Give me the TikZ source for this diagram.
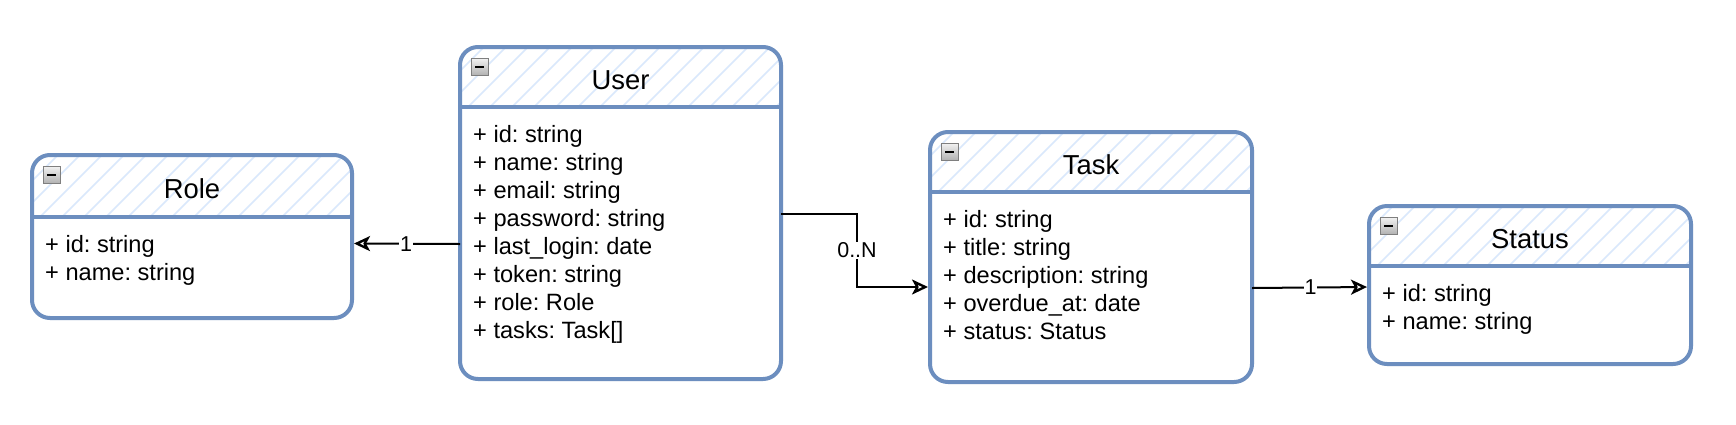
\documentclass[tikz,border=0pt]{standalone}
\usepackage{fontspec}
\setmainfont{Liberation Sans}
\usetikzlibrary{arrows.meta}
\frenchspacing
\definecolor{umlblue}{HTML}{6C8EBF}
\definecolor{hatchblue}{HTML}{DAE8FC}
\definecolor{iconborder}{HTML}{7F7F7F}
\tikzset{
 classbox/.style={draw=umlblue, line width=4pt, rounded corners=18pt, inner sep=0pt, outer sep=0pt, anchor=north west},
 sepline/.style={draw=umlblue, line width=4pt},
 hatch/.style={draw=hatchblue, line width=1.6pt},
 titletext/.style={font=\fontsize{27.4}{32}\selectfont, inner sep=0pt},
 attrtext/.style={font=\fontsize{23.6}{28}\selectfont, inner sep=0pt, anchor=base west},
 lbl/.style={font=\fontsize{21.5}{26}\selectfont, fill=white, inner sep=1pt},
 conn/.style={draw=black, line width=2pt, shorten >=2pt, -{Stealth[open, length=16pt, width=15pt, inset=4pt, line width=2.4pt]}},
 minusicon/.style={draw=iconborder, line width=1pt, top color=gray!10, bottom color=gray!60},
}
\newcommand{\umlclass}[8]{%
  \begin{scope}
    \clip[rounded corners=18pt] (#2,#3) rectangle (#4,#5);
    \clip (#2,#3) rectangle (#4,#6);
    \begin{scope}[shift={(#2,#6)}]
      \foreach \hx in {-80,-58,...,340} {\draw[hatch] (\hx,0) -- ++(80,-80);}
    \end{scope}
  \end{scope}
  \node[classbox, minimum width={(#4-#2)*1pt}, minimum height={(#5-#3)*1pt}] (#1) at (#2,#3) {};
  \draw[sepline] (#2,#6) -- (#4,#6);
  \node[titletext] (#1-title) at ({(#2+#4)/2},{(#3+#6)/2+3}) {#7};
  \draw[minusicon] ({#2+11},{#3+11}) rectangle ({#2+28},{#3+28});
  \draw[line width=2pt] ({#2+15},{#3+19.5}) -- ({#2+24},{#3+19.5});
  \foreach \a [count=\i] in {#8} {\node[attrtext] (#1-a\i) at ({#2+13},{#6+35+28*(\i-1)}) {\a};}
}
\begin{document}
\begin{tikzpicture}[x=1pt,y=-1pt]
\useasboundingbox (0,0) rectangle (1736,424);
\fill[white] (0,0) rectangle (1736,424);
\umlclass{role}{32}{155}{352}{318}{217}{Role}{+ id: string,+ name: string}
\umlclass{user}{460}{47}{781}{379}{107}{User}{+ id: string,+ name: string,+ email: string,+ password: string,+ last\_login: date,+ token: string,+ role: Role,+ tasks: Task[]}
\umlclass{task}{930}{132}{1252}{382}{192}{Task}{+ id: string,+ title: string,+ description: string,+ overdue\_at: date,+ status: Status}
\umlclass{status}{1369}{206}{1691}{364}{266}{Status}{+ id: string,+ name: string}
\draw[conn] ([yshift=-31pt]user.west) -- node[lbl]{1} ([yshift=-7pt]role.east);
\draw[conn] ([yshift=-1pt]user.east) -- ++(76,0) |- node[lbl,pos=0.25]{0..N} ([yshift=-30pt]task.west);
\draw[conn] ([yshift=-31pt]task.east) -- node[lbl]{1} ([yshift=-2pt]status.west);
\end{tikzpicture}
\end{document}
